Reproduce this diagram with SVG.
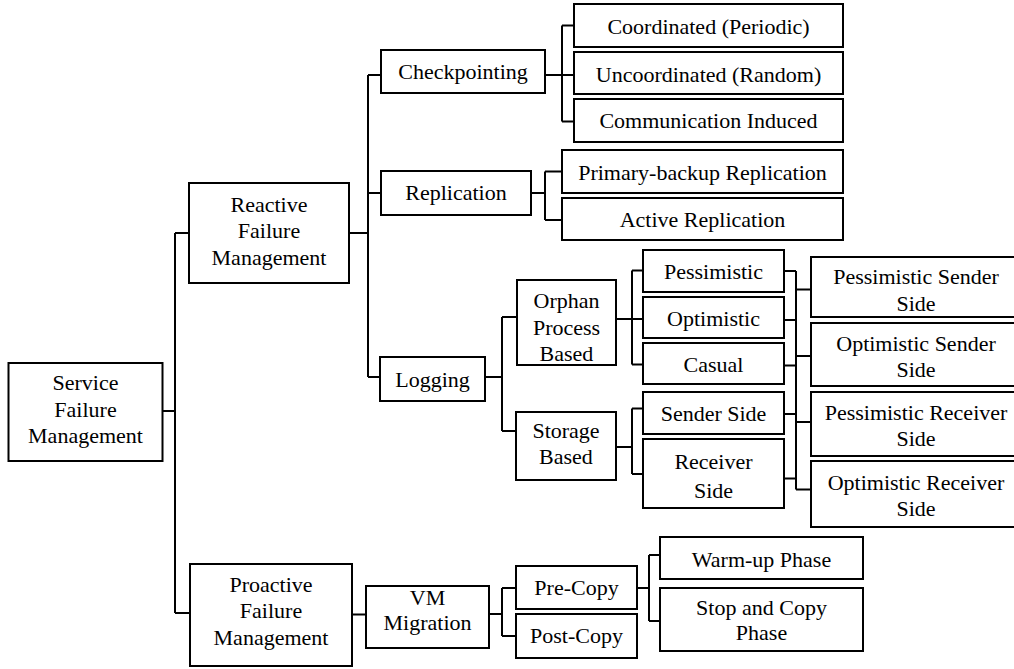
<svg xmlns="http://www.w3.org/2000/svg" width="1014" height="669" viewBox="0 0 1014 669">
<style>
.box{fill:#fff;stroke:#000;stroke-width:2}
.t{font-family:'Liberation Serif','Times New Roman',serif;font-size:22px;fill:#000;text-anchor:middle}
.c{fill:none;stroke:#000;stroke-width:2}
</style>
<rect width="1014" height="669" fill="#fff"/>
<g id="connectors">
<path class="c" d="M163,411H175M175,233V613M175,233H189M175,613H190"/>
<path class="c" d="M349,233H368M368,75V377M368,75H381M368,193H381M368,377H380"/>
<path class="c" d="M545,75H562M562,25.5V121.5M562,25.5H574M562,75H574M562,121.5H574"/>
<path class="c" d="M531,193H545M545,171.5V220M545,171.5H562M545,220H562"/>
<path class="c" d="M485,377H502M502,317V431M502,317H517M502,431H516"/>
<path class="c" d="M616,319H632M632,270.5V364.5M632,270.5H643M632,319H643M632,364.5H643"/>
<path class="c" d="M616,447H632M632,408.5V474M632,408.5H643M632,474H643"/>
<path class="c" d="M784,271H796M784,320H796M784,365.5H796M784,414H796M784,478.5H796M796,271V489.5M796,289.5H811M796,356H811M796,422H811M796,489.5H811"/>
<path class="c" d="M352,614.5H366M489,614H502M502,588V636M502,588H516M502,636H516"/>
<path class="c" d="M637,588H649M649,555V621M649,555H660M649,621H660"/>
</g>
<g id="service"><rect class="box" x="8.5" y="363" width="154" height="98"/><text class="t" x="85.5" y="390">Service</text><text class="t" x="85.5" y="416.5">Failure</text><text class="t" x="85.5" y="443">Management</text></g>
<g id="reactive"><rect class="box" x="189" y="183" width="160" height="100"/><text class="t" x="269" y="211.5">Reactive</text><text class="t" x="269" y="238">Failure</text><text class="t" x="269" y="264.5">Management</text></g>
<g id="proactive"><rect class="box" x="190" y="564" width="162" height="102"/><text class="t" x="271" y="591.5">Proactive</text><text class="t" x="271" y="618">Failure</text><text class="t" x="271" y="644.5">Management</text></g>
<g id="checkpointing"><rect class="box" x="381" y="50" width="164" height="43"/><text class="t" x="463" y="79">Checkpointing</text></g>
<g id="replication"><rect class="box" x="381" y="171" width="150" height="44"/><text class="t" x="456" y="200">Replication</text></g>
<g id="logging"><rect class="box" x="380" y="357" width="105" height="44"/><text class="t" x="432.5" y="386.5">Logging</text></g>
<g id="coordinated"><rect class="box" x="574" y="4" width="269" height="43"/><text class="t" x="708.5" y="34">Coordinated (Periodic)</text></g>
<g id="uncoordinated"><rect class="box" x="574" y="52" width="269" height="42"/><text class="t" x="708.5" y="81.5">Uncoordinated (Random)</text></g>
<g id="communication"><rect class="box" x="574" y="99" width="269" height="43"/><text class="t" x="708.5" y="128">Communication Induced</text></g>
<g id="primary-backup"><rect class="box" x="562" y="150" width="281" height="43"/><text class="t" x="702.5" y="179.5">Primary-backup Replication</text></g>
<g id="active"><rect class="box" x="562" y="198" width="281" height="42"/><text class="t" x="702.5" y="226.5">Active Replication</text></g>
<g id="orphan"><rect class="box" x="517" y="280" width="99" height="85"/><text class="t" x="566.5" y="308">Orphan</text><text class="t" x="566.5" y="335">Process</text><text class="t" x="566.5" y="361">Based</text></g>
<g id="storage"><rect class="box" x="516" y="412" width="100" height="68"/><text class="t" x="566" y="438">Storage</text><text class="t" x="566" y="464">Based</text></g>
<g id="pessimistic"><rect class="box" x="643" y="250" width="141" height="42"/><text class="t" x="713.5" y="278.5">Pessimistic</text></g>
<g id="optimistic"><rect class="box" x="643" y="297" width="141" height="41"/><text class="t" x="713.5" y="326">Optimistic</text></g>
<g id="casual"><rect class="box" x="643" y="343" width="141" height="41"/><text class="t" x="713.5" y="372">Casual</text></g>
<g id="sender-side"><rect class="box" x="643" y="392" width="141" height="42"/><text class="t" x="713.5" y="421">Sender Side</text></g>
<g id="receiver-side"><rect class="box" x="643" y="439" width="141" height="69"/><text class="t" x="713.5" y="469">Receiver</text><text class="t" x="713.5" y="498">Side</text></g>
<g id="pessimistic-sender"><rect class="box" x="811" y="257" width="209" height="60"/><text class="t" x="916" y="284">Pessimistic Sender</text><text class="t" x="916" y="310.5">Side</text></g>
<g id="optimistic-sender"><rect class="box" x="811" y="323" width="209" height="63"/><text class="t" x="916" y="350.5">Optimistic Sender</text><text class="t" x="916" y="376.5">Side</text></g>
<g id="pessimistic-receiver"><rect class="box" x="811" y="392" width="209" height="64"/><text class="t" x="916" y="420">Pessimistic Receiver</text><text class="t" x="916" y="446">Side</text></g>
<g id="optimistic-receiver"><rect class="box" x="811" y="461" width="209" height="66"/><text class="t" x="916" y="489.5">Optimistic Receiver</text><text class="t" x="916" y="515.5">Side</text></g>
<g id="vm-migration"><rect class="box" x="366" y="586" width="123" height="62"/><text class="t" x="427.5" y="605">VM</text><text class="t" x="427.5" y="630">Migration</text></g>
<g id="pre-copy"><rect class="box" x="516" y="566" width="121" height="43"/><text class="t" x="576.5" y="594.5">Pre-Copy</text></g>
<g id="post-copy"><rect class="box" x="516" y="614" width="121" height="44"/><text class="t" x="576.5" y="643">Post-Copy</text></g>
<g id="warm-up"><rect class="box" x="660" y="537" width="203" height="42"/><text class="t" x="761.5" y="566.5">Warm-up Phase</text></g>
<g id="stop-copy"><rect class="box" x="660" y="588" width="203" height="63"/><text class="t" x="761.5" y="615">Stop and Copy</text><text class="t" x="761.5" y="640">Phase</text></g>
</svg>
